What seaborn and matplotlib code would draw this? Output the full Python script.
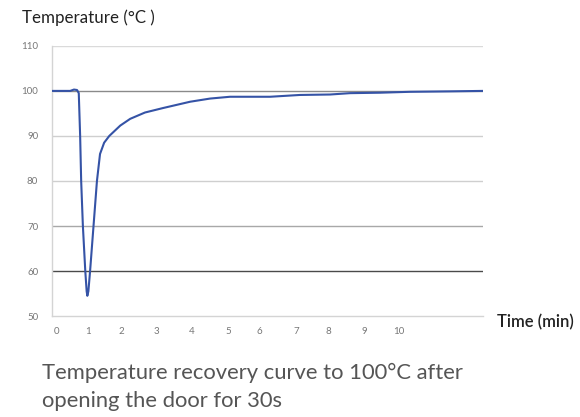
import numpy as np
import pandas as pd
import matplotlib.pyplot as plt
import seaborn as sns

# time (min) and oven temperature (degC)
time_min = [-0.12, 0.41, 0.52, 0.61, 0.66, 0.70, 0.73, 0.78, 0.85, 0.89, 0.91,
            0.94, 0.99, 1.09, 1.19, 1.28, 1.40, 1.55, 1.87, 2.16, 2.59, 3.12,
            3.91, 4.49, 5.07, 6.24, 7.11, 7.99, 8.57, 9.45, 10.32, 11.49, 12.45]
temp_c = [100.0, 100.0, 100.3, 100.2, 99.5, 90.0, 80.0, 70.0, 60.0, 55.5, 54.5,
          55.5, 60.0, 70.0, 80.0, 86.0, 88.5, 90.0, 92.3, 93.8, 95.2, 96.2,
          97.6, 98.3, 98.7, 98.7, 99.1, 99.2, 99.5, 99.6, 99.8, 99.9, 100.0]
x_labels = ["0", "1", "2", "3", "4", "5", "6", "7", "8", "9", "10"]
x_label_pos = [0.0, 0.93, 1.90, 2.92, 3.94, 5.02, 5.92, 7.0, 7.93, 8.98, 10.0]
y_ticks = [50, 60, 70, 80, 90, 100, 110]
grid_colors = {60: "#4a4a4a", 70: "#a8a8a8", 80: "#cfcfcf", 90: "#cfcfcf",
               100: "#8a8a8a", 110: "#dadada"}

df = pd.DataFrame({"Time": time_min, "Temp": temp_c})

sns.set_style("white")
plt.rcParams['font.family'] = ['Lato', 'DejaVu Sans']

fig = plt.figure(figsize=(5.8, 4.17), dpi=100)
ax = fig.add_axes([0.0897, 0.242, 0.7431, 0.648])

for val, col in grid_colors.items():
    ax.axhline(val, color=col, lw=1.0, zorder=1)

sns.lineplot(data=df, x="Time", y="Temp", color="#3553a6", lw=1.5, ax=ax, zorder=3)

ax.set_xlim(-0.12, 12.45)
ax.set_ylim(50, 110)
ax.set_yticks(y_ticks)
ax.set_yticklabels([str(v) for v in y_ticks], fontsize=7, color="#777777")
ax.tick_params(axis="y", length=4, color="#cccccc", pad=6)

# tick marks every ~38 px, labels sit on their own positions (Excel-style)
ax.set_xticks(np.arange(0, 12) * 1.108 - 0.12, minor=True)
ax.set_xticks(x_label_pos)
ax.set_xticklabels(x_labels, fontsize=7, color="#777777")
ax.tick_params(axis="x", which="major", length=0, pad=8)
ax.tick_params(axis="x", which="minor", length=3, color="#cccccc", direction="out")
ax.set_xlabel("")
ax.set_ylabel("")

for side in ["top", "right"]:
    ax.spines[side].set_visible(False)
for side in ["left", "bottom"]:
    ax.spines[side].set_color("#d4d4d4")
    ax.spines[side].set_linewidth(1.0)

fig.text(22 / 580, 1 - 18 / 417, "Temperature (°C )", fontsize=12.2, color="#222222",
         va="center", ha="left")
fig.text(497 / 580, 1 - 322 / 417, "Time (min)", fontsize=12, color="#222222",
         va="center", ha="left", fontweight="semibold")
fig.text(42 / 580, 1 - 373 / 417, "Temperature recovery curve to 100°C after",
         fontsize=15.8, color="#555555", va="center", ha="left")
fig.text(42 / 580, 1 - 401 / 417, "opening the door for 30s",
         fontsize=15.8, color="#555555", va="center", ha="left")

fig.savefig("out.png", dpi=100)
